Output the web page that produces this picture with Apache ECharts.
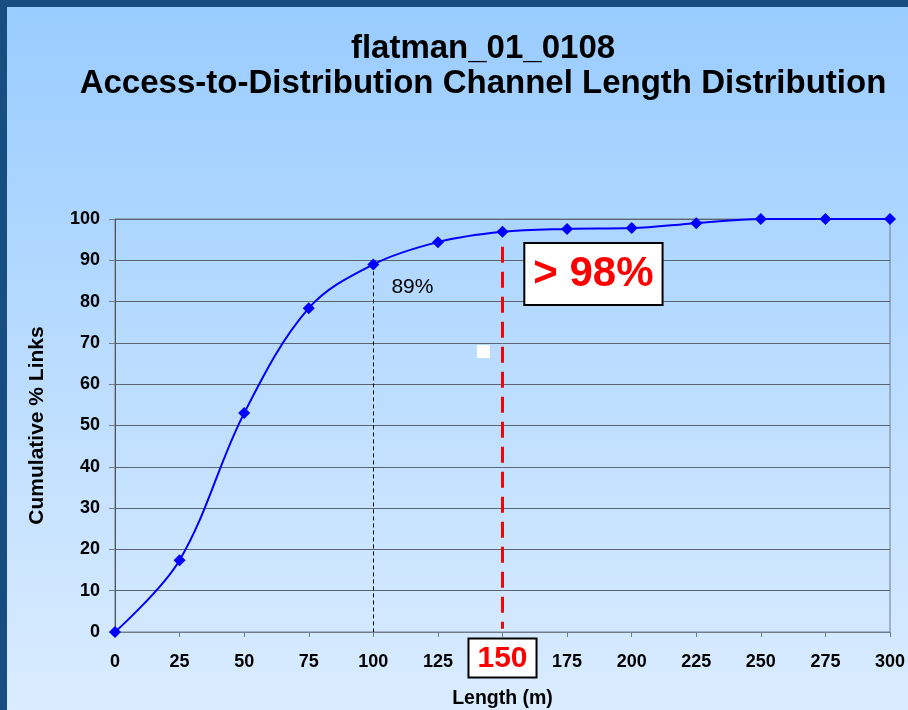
<!DOCTYPE html>
<html>
<head>
<meta charset="utf-8">
<script src="https://cdn.jsdelivr.net/npm/echarts@6/dist/echarts.min.js"></script>
<style>
  html, body { margin: 0; padding: 0; background: #174e82; }
  #chart { width: 908px; height: 710px; }
</style>
</head>
<body>
<div id="chart"></div>
<script>
// Channel length (m) and cumulative share of links (%)
const lengths = [0, 25, 50, 75, 100, 125, 150, 175, 200, 225, 250, 275, 300];
const cumulativePct = [0, 17.4, 53, 78.4, 89, 94.4, 96.9, 97.6, 97.8, 99, 100, 100, 100];

// Annotations
const markerLength = 100;   // 89% point
const markerPct = 89;
const thresholdLength = 150;
const thresholdText = '> 98%';

const titleLines = ['flatman_01_0108', 'Access-to-Distribution Channel Length Distribution'];
const xName = 'Length (m)';
const yName = 'Cumulative % Links';

const FONT = '"Liberation Sans", Arial, sans-serif';

const chart = echarts.init(document.getElementById('chart'));

chart.setOption({
  animation: false,
  backgroundColor: 'transparent',
  graphic: [
    {
      type: 'rect',
      shape: { x: 7, y: 7, width: 901, height: 703 },
      style: {
        fill: new echarts.graphic.LinearGradient(0, 0, 0, 1, [
          { offset: 0, color: '#99ccff' },
          { offset: 1, color: '#daecff' }
        ])
      },
      z: -10,
      silent: true
    }
  ],
  title: {
    text: titleLines.join('\n'),
    left: 478,
    textAlign: 'center',
    top: 26,
    textStyle: {
      fontFamily: FONT,
      fontSize: 33,
      fontWeight: 'bold',
      color: '#000',
      lineHeight: 35
    }
  },
  grid: {
    left: 115,
    right: 18,
    top: 219,
    bottom: 78,
    outerBoundsMode: 'none',
    containLabel: false,
    show: true,
    borderColor: '#6f7d8a',
    borderWidth: 1
  },
  xAxis: {
    type: 'value',
    min: 0,
    max: 300,
    interval: 25,
    name: xName,
    nameLocation: 'middle',
    nameGap: 57,
    nameTextStyle: { fontFamily: FONT, fontSize: 19.5, fontWeight: 'bold', color: '#000' },
    axisLine: { show: true, lineStyle: { color: '#6f7d8a', width: 1 } },
    axisTick: { show: true, length: 5, lineStyle: { color: '#6f7d8a' } },
    splitLine: { show: false },
    axisLabel: {
      margin: 11,
      hideOverlap: false,
      formatter: function (v) {
        return v === thresholdLength ? '{hl|' + v + '}' : '{n|' + v + '}';
      },
      rich: {
        n: {
          fontFamily: FONT,
          fontSize: 18,
          lineHeight: 18,
          fontWeight: 'bold',
          color: '#000',
          padding: [20, 0, 0, 0]
        },
        hl: {
          fontFamily: FONT,
          fontSize: 30,
          lineHeight: 30,
          fontWeight: 'bold',
          color: '#ff0000',
          backgroundColor: '#ffffff',
          borderColor: '#000',
          borderWidth: 2,
          padding: [4, 8, 3, 8]
        }
      }
    }
  },
  yAxis: {
    type: 'value',
    min: 0,
    max: 100,
    interval: 10,
    name: yName,
    nameLocation: 'middle',
    nameGap: 67,
    nameTextStyle: { fontFamily: FONT, fontSize: 21, fontWeight: 'bold', color: '#000' },
    axisLine: { show: true, lineStyle: { color: '#555', width: 1 } },
    axisTick: { show: true, length: 6, lineStyle: { color: '#6f7d8a' } },
    splitLine: { show: true, lineStyle: { color: '#5a6570', width: 1 } },
    axisLabel: {
      margin: 15,
      fontFamily: FONT,
      fontSize: 18,
      fontWeight: 'bold',
      color: '#000'
    }
  },
  series: [
    {
      type: 'line',
      data: lengths.map((x, i) => [x, cumulativePct[i]]),
      smooth: 0.35,
      symbol: 'diamond',
      symbolSize: 12,
      lineStyle: { color: '#0000ff', width: 2 },
      itemStyle: { color: '#0000ff' },
      z: 5,
      markLine: {
        silent: true,
        symbol: 'none',
        label: { show: false },
        data: [
          [
            { coord: [markerLength, markerPct], lineStyle: { color: '#000', width: 1, type: [4, 3] } },
            { coord: [markerLength, 0] }
          ],
          [
            { coord: [thresholdLength, 93.3], lineStyle: { color: '#ff0000', width: 3, type: [16, 9] } },
            { coord: [thresholdLength, 0.8] }
          ]
        ]
      },
      markPoint: {
        silent: true,
        data: [
          {
            coord: [107, 83.5],
            symbol: 'rect',
            symbolSize: 0,
            label: {
              show: true,
              formatter: markerPct + '%',
              position: 'right',
              distance: 0,
              fontFamily: FONT,
              fontSize: 21,
              color: '#000'
            }
          },
          {
            coord: [185.2, 86.7],
            symbol: 'rect',
            symbolSize: 0,
            label: {
              show: true,
              formatter: thresholdText,
              position: 'inside',
              fontFamily: FONT,
              fontSize: 42,
              lineHeight: 42,
              fontWeight: 'bold',
              color: '#ff0000',
              backgroundColor: '#ffffff',
              borderColor: '#000',
              borderWidth: 2,
              padding: [9, 8, 9, 8]
            }
          },
          {
            coord: [142.6, 67.9],
            symbol: 'rect',
            symbolSize: 13,
            itemStyle: { color: '#ffffff' },
            label: { show: false }
          }
        ]
      }
    }
  ]
});
</script>
</body>
</html>
